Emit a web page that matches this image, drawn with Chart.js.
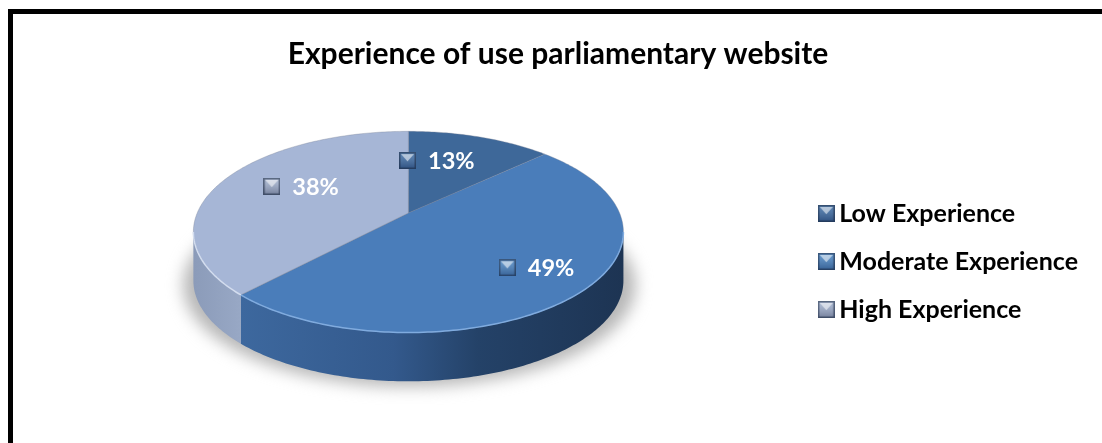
<!DOCTYPE html>
<html>
<head>
<meta charset="utf-8">
<style>
    html, body { margin: 0; padding: 0; width: 1102px; height: 443px; overflow: hidden; background: #fff; }
    #frame { position: absolute; left: 8px; top: 9px; right: 0; bottom: 0; border-top: 5px solid #000; border-left: 5px solid #000; }
    #chart { position: absolute; left: 10px; top: 0; }
</style>
<script src="https://cdn.jsdelivr.net/npm/chart.js@4/dist/chart.umd.js"></script>
</head>
<body>
<div id="frame"></div>
<canvas id="chart" width="1096" height="443"></canvas>
<script>
const chartTitle = 'Experience of use parliamentary website';
const categories = ['Low Experience', 'Moderate Experience', 'High Experience'];
const shares = [13, 49, 38];
const topColors = ['#3e6899', '#4a7dba', '#a6b6d6'];
const rimColors = ['#5f8fc8', '#7fabdf', '#d3ddef'];
const keyColors = ['#3f6fa6', '#4a86c4', '#a3b3cf'];
const wallStops = [
    [],
    [[0, '#3d689e'], [0.4, '#33598c'], [0.62, '#244268'], [1, '#1d3453']],
    [[0, '#8b9bb9'], [1, '#98a8c5']]
];

// nudges for the key + value block of each slice, in px
const labelNudge = [[-18, -4], [30, 10], [5, -6]];

// perspective of the disc: near edge larger than the far edge
const persp = 0.188;
const spreadX = 1.606;
const spreadY = 0.738;
const depth = 0.371;
const discShift = -7;

function project(arc, angle, rho = 1) {
    const u = rho * Math.cos(angle);
    const v = rho * Math.sin(angle);
    const w = 1 - persp * v;
    return {
        x: arc.x + discShift + arc.outerRadius * spreadX * u / w,
        y: arc.y + arc.outerRadius * spreadY * v / w
    };
}

function traceEdge(ctx, arc, from, to, dy = 0) {
    const steps = Math.max(2, Math.ceil(Math.abs(to - from) * 60));
    for (let i = 0; i <= steps; i++) {
        const p = project(arc, from + (to - from) * i / steps);
        ctx.lineTo(p.x, p.y + dy);
    }
}

class Pie3dArc extends Chart.ArcElement {
    draw(ctx) {
        const c = project(this, 0, 0);
        ctx.save();
        ctx.beginPath();
        ctx.moveTo(c.x, c.y);
        traceEdge(ctx, this, this.startAngle, this.endAngle);
        ctx.closePath();
        ctx.fillStyle = this.options.backgroundColor;
        ctx.fill();
        ctx.lineWidth = this.options.borderWidth;
        ctx.strokeStyle = this.options.borderColor;
        ctx.stroke();
        ctx.restore();
    }
}
Pie3dArc.id = 'pie3dArc';

function keyCanvas(color, size) {
    const cv = document.createElement('canvas');
    cv.width = size;
    cv.height = size;
    const g = cv.getContext('2d');
    g.fillStyle = color;
    g.fillRect(0, 0, size, size);
    // shaded bevel, light wedge at the top
    const shade = g.createLinearGradient(0, 0, 0, size);
    shade.addColorStop(0, 'rgba(255,255,255,0.15)');
    shade.addColorStop(1, 'rgba(0,0,30,0.3)');
    g.fillStyle = shade;
    g.fillRect(0, 0, size, size);
    g.fillStyle = 'rgba(255,255,255,0.55)';
    g.beginPath();
    g.moveTo(2, 2);
    g.lineTo(size - 2, 2);
    g.lineTo(size / 2, size * 0.55);
    g.closePath();
    g.fill();
    g.strokeStyle = 'rgba(30,45,70,0.6)';
    g.lineWidth = 1.5;
    g.strokeRect(0.75, 0.75, size - 1.5, size - 1.5);
    return cv;
}

class Pie3dController extends Chart.PieController {
    draw() {
        const ctx = this.chart.ctx;
        const arcs = this._cachedMeta.data;
        const first = arcs[0];
        const R = first.outerRadius;

        // soft shadow under the disc
        ctx.save();
        ctx.filter = 'blur(8px)';
        ctx.fillStyle = '#b6b6b6';
        ctx.beginPath();
        ctx.ellipse(first.x + discShift + 1, first.y + R * 0.55, R * 1.72, R * 0.77, 0, 0, Math.PI * 2);
        ctx.fill();
        ctx.restore();

        // side wall, only the part facing the viewer
        const a0 = Math.asin(persp);
        const a1 = Math.PI - a0;
        const dy = R * depth;
        arcs.forEach((arc, i) => {
            const from = Math.max(arc.startAngle, a0);
            const to = Math.min(arc.endAngle, a1);
            if (to <= from) return;
            const xs = [project(arc, from).x, project(arc, to).x];
            const grad = ctx.createLinearGradient(Math.min(...xs), 0, Math.max(...xs), 0);
            wallStops[i].forEach(s => grad.addColorStop(s[0], s[1]));
            ctx.save();
            ctx.beginPath();
            traceEdge(ctx, arc, from, to);
            traceEdge(ctx, arc, to, from, dy);
            ctx.closePath();
            ctx.fillStyle = grad;
            ctx.fill();
            ctx.restore();
        });

        super.draw();

        // light rim along the front edge
        arcs.forEach((arc, i) => {
            const from = Math.max(arc.startAngle, a0);
            const to = Math.min(arc.endAngle, a1);
            if (to <= from) return;
            ctx.save();
            ctx.beginPath();
            traceEdge(ctx, arc, from, to);
            ctx.strokeStyle = rimColors[i];
            ctx.lineWidth = 1.5;
            ctx.stroke();
            ctx.restore();
        });

        // value labels with their small keys
        arcs.forEach((arc, i) => {
            const mid = (arc.startAngle + arc.endAngle) / 2;
            const p = project(arc, mid, 0.6);
            const cx = p.x + labelNudge[i][0];
            const cy = p.y + labelNudge[i][1];
            ctx.save();
            ctx.drawImage(keyCanvas(keyColors[i], 17), cx - 37, cy - 8.5);
            ctx.fillStyle = '#fff';
            ctx.font = 'bold 23.5px Lato';
            ctx.textAlign = 'left';
            ctx.textBaseline = 'middle';
            ctx.fillText(shares[i] + '%', cx - 8, cy + 1);
            ctx.restore();
        });
    }
}
Pie3dController.id = 'pie3d';
Pie3dController.defaults = Object.assign({}, Chart.PieController.defaults, { dataElementType: 'pie3dArc' });

Chart.register(Pie3dArc, Pie3dController);

const chart = new Chart(document.getElementById('chart'), {
    type: 'pie3d',
    data: {
        labels: categories,
        datasets: [{
            data: shares,
            backgroundColor: topColors,
            borderColor: 'rgba(120,130,150,0.35)',
            borderWidth: 1,
            clip: false
        }]
    },
    options: {
        responsive: false,
        animation: false,
        events: [],
        layout: { padding: { left: 18, right: 18, top: 0, bottom: 98 } },
        plugins: {
            title: {
                display: true,
                text: chartTitle,
                color: '#000',
                font: { family: 'Lato', size: 30, weight: 'bold' },
                padding: { top: 36, bottom: 9 }
            },
            legend: {
                position: 'right',
                align: 'end',
                labels: {
                    color: '#000',
                    font: { family: 'Lato', size: 25, weight: 'bold' },
                    padding: 23,
                    usePointStyle: true,
                    pointStyleWidth: 1,
                    generateLabels: () => categories.map((name, i) => ({
                        text: name,
                        index: i,
                        fillStyle: keyColors[i],
                        strokeStyle: keyColors[i],
                        lineWidth: 0,
                        pointStyle: keyCanvas(keyColors[i], 17)
                    }))
                }
            },
            tooltip: { enabled: false }
        }
    }
});
</script>
</body>
</html>
